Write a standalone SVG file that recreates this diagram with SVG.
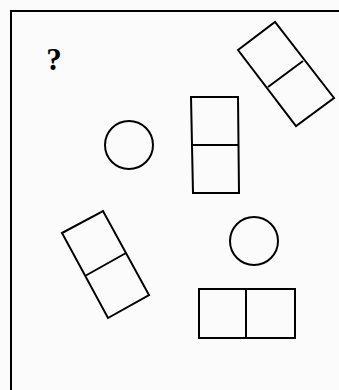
<svg xmlns="http://www.w3.org/2000/svg" width="339" height="390" viewBox="0 0 339 390">
<style>
.s{fill:none;stroke:#000;stroke-width:2;stroke-linejoin:miter}
.q{font-family:"Liberation Serif",serif;font-weight:bold;font-size:31px;fill:#000}
</style>
<rect width="339" height="390" fill="#fbfbfb"/>
<g id="frame"><path class="s" d="M11,390 V11 H339" stroke-width="2.5"/></g>
<g id="question"><text class="q" x="54" y="70" text-anchor="middle">?</text></g>
<g id="circle1"><circle class="s" cx="129" cy="145" r="24"/></g>
<g id="circle2"><circle class="s" cx="254" cy="241" r="24"/></g>
<g id="rect-vertical"><path class="s" d="M191,97 H238 L239,193 H193 Z M192,145 H238"/></g>
<g id="rect-tilted-top"><path class="s" d="M238,50 L275,22 L334,98 L296,126 Z M268,87 L303,61"/></g>
<g id="rect-tilted-left"><path class="s" d="M62,233 L103,211 L149,295 L108,318 Z M85,276 L126,253"/></g>
<g id="rect-horizontal"><path class="s" d="M199,289 H295 V338 H199 Z M246,289 V338"/></g>
</svg>
